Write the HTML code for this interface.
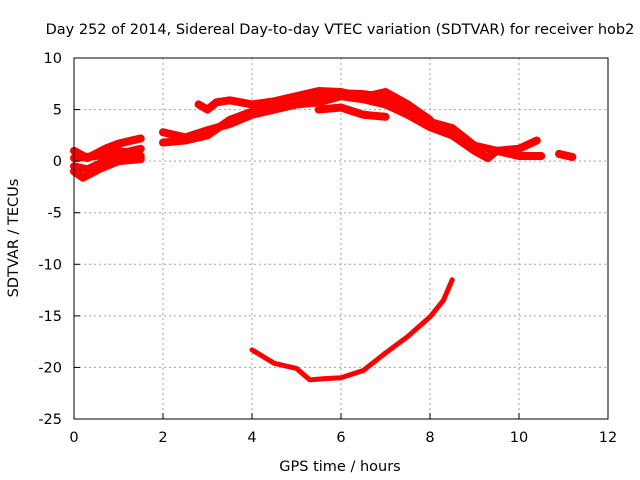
<!DOCTYPE html>
<html><head><meta charset="utf-8"><style>
body{margin:0;background:#fff}
svg{display:block;font-family:"DejaVu Sans","Liberation Sans",sans-serif;font-size:14.5px}
</style></head><body>
<svg id="chart" width="640" height="480">
<text x="340" y="34" text-anchor="middle">Day 252 of 2014, Sidereal Day-to-day VTEC variation (SDTVAR) for receiver hob2</text>
<text x="340" y="471" text-anchor="middle">GPS time / hours</text>
<text transform="translate(18,238) rotate(-90)" text-anchor="middle">SDTVAR / TECUs</text>
<g id="grid"></g><g id="marks"></g>
<rect x="74" y="58" width="534" height="361" fill="none" stroke="#000"/>
</svg>
<script>
const xTicks=[0,2,4,6,8,10,12];
const yTicks=[10,5,0,-5,-10,-15,-20,-25];
const series=[
 [[0,1],[0.3,0.3],[0.7,1.2],[1,1.7],[1.5,2.2]],
 [[0,-0.5],[0.3,-0.8],[0.7,0],[1.1,0.8],[1.5,1.2]],
 [[0,-1],[0.2,-1.6],[0.6,-0.7],[1,0],[1.5,0.2]],
 [[0,0.3],[0.5,0.5],[1,1],[1.5,0.5]],
 [[2,2.8],[2.5,2.3],[3,3],[3.5,3.6],[4,4.5],[4.5,5],[5,5.5],[5.5,5.7],[6,6.3],[6.5,6],[7,5.5],[7.5,4.5],[8,3.3],[8.5,2.5],[9,1],[9.3,0.3],[9.5,1],[10,0.5],[10.5,0.5]],
 [[2,1.8],[2.5,2],[3,2.5],[3.5,4],[4,4.8],[5,5.5],[5.5,6.2],[6,6.6],[6.5,6.5],[7,6.2],[7.5,5],[8,3.8],[8.5,3.2],[9,1.5],[9.5,1],[10,1.2],[10.4,2]],
 [[2.8,5.5],[3,5],[3.2,5.7],[3.5,5.9],[4,5.5],[4.5,5.8],[5,6.3],[5.5,6.8],[6,6.7],[6.5,6.2],[7,6.7],[7.5,5.5],[8,4]],
 [[5.5,5],[6,5.2],[6.5,4.5],[7,4.3]],
 [[10.9,0.7],[11.2,0.4]]
];
const lowerArc=[[4,-18.3],[4.5,-19.6],[5,-20.1],[5.3,-21.2],[5.6,-21.1],[6,-21],[6.5,-20.3],[7,-18.6],[7.5,-17],[8,-15.1],[8.3,-13.5],[8.5,-11.5]];
const X=v=>74+v*534/12, Y=v=>58+(10-v)*361/35;
const NS='http://www.w3.org/2000/svg';
const grid=document.getElementById('grid'),marks=document.getElementById('marks'),svg=document.getElementById('chart');
function mk(t,a,p){const e=document.createElementNS(NS,t);for(const k in a)e.setAttribute(k,a[k]);p.appendChild(e);return e;}
xTicks.forEach(v=>{
 if(v>0&&v<12){const l=mk('line',{x1:X(v),x2:X(v),y1:58,y2:419,stroke:'#a0a0a0','stroke-dasharray':'2,3'},grid);
 
 }
 const t=mk('text',{x:X(v),y:442,'text-anchor':'middle'},svg);t.textContent=v;
 
 
 mk('line',{x1:X(v),x2:X(v),y1:419,y2:413,stroke:'#000'},svg);
});
yTicks.forEach(v=>{
 if(v<10&&v>-25){const l=mk('line',{x1:74,x2:608,y1:Y(v),y2:Y(v),stroke:'#a0a0a0','stroke-dasharray':'2,3'},grid);
 
 }
 const t=mk('text',{x:62,y:Y(v)+5,'text-anchor':'end'},svg);t.textContent=v;
 
 
 mk('line',{x1:74,x2:80,y1:Y(v),y2:Y(v),stroke:'#000'},svg);
});
const pts=s=>s.map(p=>X(p[0])+','+Y(p[1])).join(' ');
series.forEach(s=>{
 const p=mk('polyline',{points:pts(s),fill:'none',stroke:'#f00','stroke-width':8,'stroke-linejoin':'round','stroke-linecap':'round'},marks);
 
 
});
const la=mk('polyline',{points:pts(lowerArc),fill:'none',stroke:'#f00','stroke-width':5,'stroke-linejoin':'round','stroke-linecap':'round'},marks);


</script>
</body></html>
